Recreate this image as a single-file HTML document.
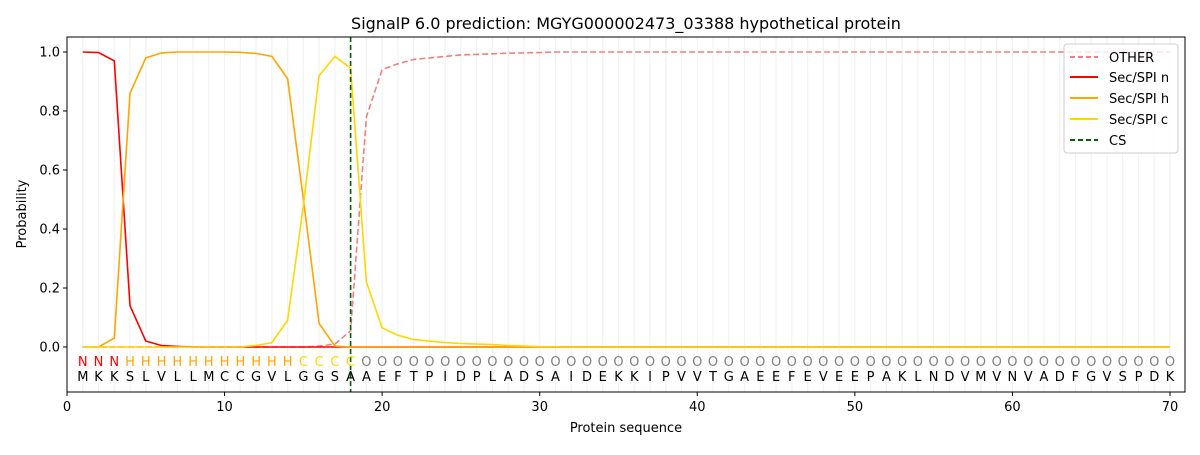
<!DOCTYPE html>
<html><head><meta charset="utf-8"><style>
body{margin:0;background:#fff}
svg{font-family:"DejaVu Sans","Liberation Sans",sans-serif}
</style></head><body>
<svg id="s" width="1200" height="450" xmlns="http://www.w3.org/2000/svg">
<rect width="1200" height="450" fill="#fff"/>
<g id="grid"></g>
<g id="lines"></g>
<line x1="350.6" y1="37" x2="350.6" y2="392" stroke="#006400" stroke-width="1.6" stroke-dasharray="5,3"/>
<rect x="67" y="37" width="1118" height="355" fill="none" stroke="#000" stroke-width="1"/>
<g font-size="13" text-anchor="middle">
<text y="366" x="82.8 98.5 114.3" fill="#ff0000">NNN</text>
<text y="366" x="130.0 145.8 161.5 177.3 193.1 208.8 224.6 240.4 256.1 271.9 287.6" fill="#ffa500">HHHHHHHHHHH</text>
<text y="366" x="303.4 319.2 334.9 350.6" fill="#ffd700">CCCC</text>
<text y="366" id="otext" fill="#808080"></text>
<text y="381" id="seq" fill="#000"></text>
</g>
<g font-size="13" fill="#000" id="ticks"></g>
<text x="626" y="29" font-size="16" text-anchor="middle">SignalP 6.0 prediction: MGYG000002473_03388 hypothetical protein</text>
<text x="626" y="432" font-size="13" text-anchor="middle">Protein sequence</text>
<text transform="translate(26,214) rotate(-90)" font-size="13" text-anchor="middle">Probability</text>
<g>
<rect x="1064" y="44" width="114" height="109" fill="#fff" fill-opacity="0.8" stroke="#ccc" rx="3"/>
<line x1="1070" y1="57" x2="1098" y2="57" stroke="#f08080" stroke-width="2" stroke-dasharray="5,3"/>
<line x1="1070" y1="77" x2="1098" y2="77" stroke="#ff0000" stroke-width="2"/>
<line x1="1070" y1="98" x2="1098" y2="98" stroke="#ffa500" stroke-width="2"/>
<line x1="1070" y1="119" x2="1098" y2="119" stroke="#ffd700" stroke-width="2"/>
<line x1="1070" y1="140" x2="1098" y2="140" stroke="#006400" stroke-width="2" stroke-dasharray="5,3"/>
<g font-size="13"><text x="1109" y="62">OTHER</text><text x="1109" y="82">Sec/SPI n</text><text x="1109" y="103">Sec/SPI h</text><text x="1109" y="124">Sec/SPI c</text><text x="1109" y="145">CS</text></g>
</g>
</svg>
<script>
var X=i=>67+15.757*i, Y=p=>347-295*p, ns="http://www.w3.org/2000/svg";
function el(t,a,p){var e=document.createElementNS(ns,t);for(var k in a)e.setAttribute(k,a[k]);p.appendChild(e);return e;}
var g=document.getElementById('grid');
for(var i=1;i<=70;i++)el('line',{x1:X(i),x2:X(i),y1:37,y2:392,stroke:'#f2f2f2','stroke-width':1.2},g);
var seq="MKKSLVLLMCCGVLGGSAAEFTPIDPLADSAIDEKKIPVVTGAEEFEVEEPAKLNDVMVNVADFGVSPDK";
var xs=[];for(i=1;i<=70;i++)xs.push(X(i).toFixed(1));
var s=document.getElementById('seq');s.setAttribute('x',xs.join(' '));s.textContent=seq;
var o=document.getElementById('otext');o.setAttribute('x',xs.slice(18).join(' '));o.textContent="O".repeat(52);
var t=document.getElementById('ticks');
for(i=0;i<=70;i+=10){el('line',{x1:X(i),x2:X(i),y1:392,y2:396,stroke:'#000'},t);el('text',{x:X(i),y:411,'text-anchor':'middle'},t).textContent=i;}
[0,0.2,0.4,0.6,0.8,1.0].forEach(v=>{el('line',{x1:63,x2:67,y1:Y(v),y2:Y(v),stroke:'#000'},t);el('text',{x:60,y:Y(v)+4.5,'text-anchor':'end'},t).textContent=v.toFixed(1);});
function arr(m){var a=[];for(var i=1;i<=70;i++)a.push(m[i]!==undefined?m[i]:(m.d||0));return a;}
var n=arr({1:1,2:0.998,3:0.97,4:0.14,5:0.02,6:0.005,7:0.002});
var h=arr({3:0.03,4:0.86,5:0.98,6:0.997,7:1,8:1,9:1,10:1,11:0.999,12:0.995,13:0.985,14:0.91,15:0.5,16:0.08,17:0.003});
var c=arr({12:0.005,13:0.015,14:0.09,15:0.48,16:0.92,17:0.985,18:0.945,19:0.22,20:0.065,21:0.04,22:0.025,23:0.02,24:0.015,25:0.012,26:0.01,27:0.008,28:0.005,29:0.003,30:0.001});
var ot={d:1};for(i=1;i<=15;i++)ot[i]=0;Object.assign(ot,{16:0.003,17:0.01,18:0.055,19:0.78,20:0.94,21:0.96,22:0.975,23:0.98,24:0.985,25:0.99,26:0.992,27:0.994,28:0.996,29:0.997,30:0.998});
var O=arr(ot);
var L=document.getElementById('lines');
function pl(a,col,dash){var p=a.map((v,i)=>X(i+1).toFixed(1)+','+Y(v).toFixed(1)).join(' ');var at={points:p,fill:'none',stroke:col,'stroke-width':1.6};if(dash)at['stroke-dasharray']=dash;el('polyline',at,L);}
pl(O,'#f08080','6,3');pl(n,'#ff0000');pl(h,'#ffa500');pl(c,'#ffd700');
</script>
</body></html>
